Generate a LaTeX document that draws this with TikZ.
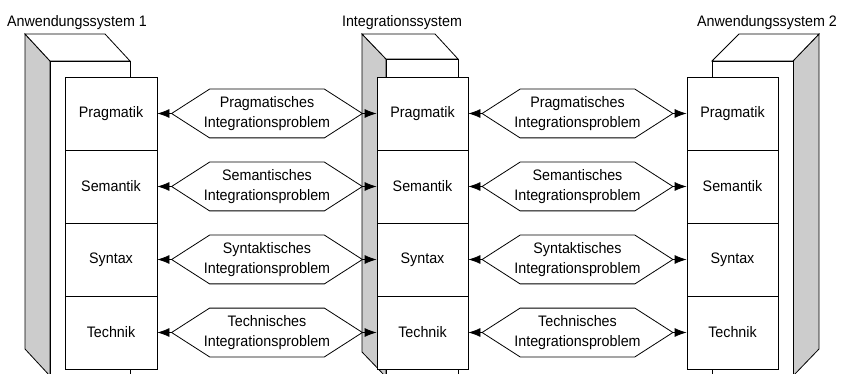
\documentclass[tikz,border=0pt]{standalone}
\usepackage{fontspec}
\setmainfont{Liberation Sans}[FakeStretch=0.94]
\usetikzlibrary{arrows.meta}
\definecolor{sidegray}{RGB}{204,204,204}
% Sechseck um einen Problemknoten
\newcommand{\hexframe}[1]{%
  \draw (#1.west) -- ([xshift=38pt]#1.north west) -- ([xshift=-38pt]#1.north east)
    -- (#1.east) -- ([xshift=-38pt]#1.south east) -- ([xshift=38pt]#1.south west) -- cycle;}

\begin{document}
\begin{tikzpicture}[x=1pt,y=-1pt,line width=0.8pt,>={Latex[length=12pt,width=9pt]},
  font=\fontsize{15.2}{20.7}\selectfont,
  layer/.style={draw,fill=white,minimum width=92pt,minimum height=73pt,inner sep=0pt},
  problem/.style={minimum width=190pt,minimum height=48pt,inner sep=0pt,align=center}]

\useasboundingbox (0,0) rectangle (841,374);

% Anwendungssystem 1
\draw[fill=sidegray] (25,34) -- (50,61) -- (50,376) -- (25,349) -- cycle;
\draw[fill=white] (25,34) -- (105,34) -- (130,61) -- (50,61) -- cycle;
\draw[fill=white] (50,61) rectangle (130,376);
\node[anchor=base] (t1) at (77,27) {Anwendungssystem 1};

% Integrationssystem
\draw[fill=sidegray] (362,34) -- (386,59) -- (386,377) -- (362,352) -- cycle;
\draw[fill=white] (362,34) -- (435,34) -- (458,59) -- (386,59) -- cycle;
\draw[fill=white] (386,59) rectangle (458,377);
\node[anchor=base] (t2) at (402,27) {Integrationssystem};

% Anwendungssystem 2
\draw[fill=sidegray] (819,34) -- (793,61) -- (793,376) -- (819,349) -- cycle;
\draw[fill=white] (739,34) -- (819,34) -- (793,61) -- (712,61) -- cycle;
\draw[fill=white] (712,61) rectangle (793,376);
\node[anchor=base] (t3) at (767,27) {Anwendungssystem 2};

% Ebenen links
\node[layer] (a1) at (111,113.5) {Pragmatik};
\node[layer] (a2) at (111,186.5) {Semantik};
\node[layer] (a3) at (111,259.5) {Syntax};
\node[layer] (a4) at (111,332.5) {Technik};

% Ebenen Mitte
\node[layer,minimum width=91pt] (i1) at (422.5,113.5) {Pragmatik};
\node[layer,minimum width=91pt] (i2) at (422.5,186.5) {Semantik};
\node[layer,minimum width=91pt] (i3) at (422.5,259.5) {Syntax};
\node[layer,minimum width=91pt] (i4) at (422.5,332.5) {Technik};

% Ebenen rechts
\node[layer,minimum width=91pt] (b1) at (732.5,113.5) {Pragmatik};
\node[layer,minimum width=91pt] (b2) at (732.5,186.5) {Semantik};
\node[layer,minimum width=91pt] (b3) at (732.5,259.5) {Syntax};
\node[layer,minimum width=91pt] (b4) at (732.5,332.5) {Technik};

% Probleme links
\node[problem] (p1) at (267,113.5) {Pragmatisches\\Integrationsproblem};
\node[problem] (p2) at (267,186.5) {Semantisches\\Integrationsproblem};
\node[problem] (p3) at (267,259.5) {Syntaktisches\\Integrationsproblem};
\node[problem] (p4) at (267,332.5) {Technisches\\Integrationsproblem};
\hexframe{p1} \hexframe{p2} \hexframe{p3} \hexframe{p4}

% Probleme rechts
\node[problem] (q1) at (577.5,113.5) {Pragmatisches\\Integrationsproblem};
\node[problem] (q2) at (577.5,186.5) {Semantisches\\Integrationsproblem};
\node[problem] (q3) at (577.5,259.5) {Syntaktisches\\Integrationsproblem};
\node[problem] (q4) at (577.5,332.5) {Technisches\\Integrationsproblem};
\hexframe{q1} \hexframe{q2} \hexframe{q3} \hexframe{q4}

% Pfeile
\draw[->] (p1.west) -- (a1.east);
\draw[->] (p1.east) -- (i1.west);
\draw[->] (p2.west) -- (a2.east);
\draw[->] (p2.east) -- (i2.west);
\draw[->] (p3.west) -- (a3.east);
\draw[->] (p3.east) -- (i3.west);
\draw[->] (p4.west) -- (a4.east);
\draw[->] (p4.east) -- (i4.west);

\draw[->] (q1.west) -- (i1.east);
\draw[->] (q1.east) -- (b1.west);
\draw[->] (q2.west) -- (i2.east);
\draw[->] (q2.east) -- (b2.west);
\draw[->] (q3.west) -- (i3.east);
\draw[->] (q3.east) -- (b3.west);
\draw[->] (q4.west) -- (i4.east);
\draw[->] (q4.east) -- (b4.west);

\end{tikzpicture}
\end{document}
